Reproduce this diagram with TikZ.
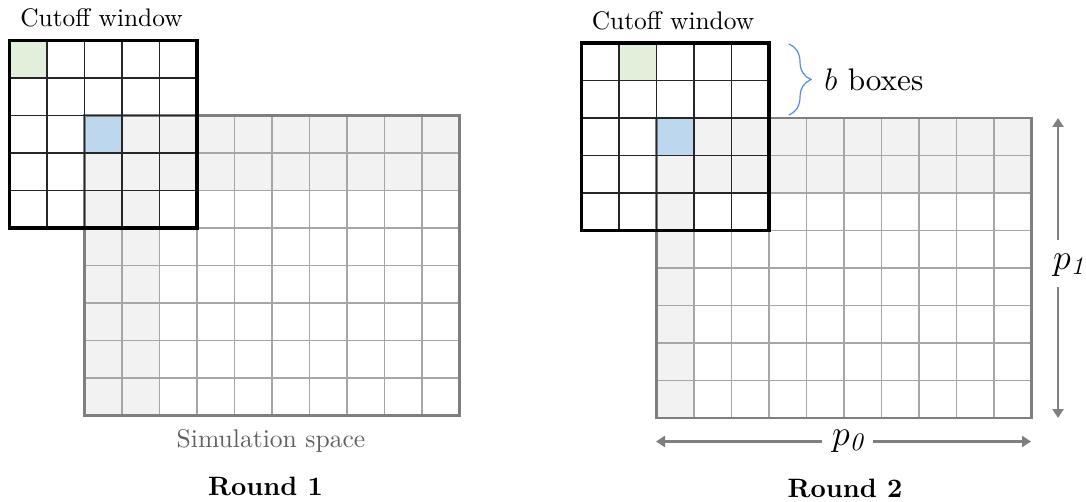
\RequirePackage{fix-cm}
\documentclass[tikz,border=0pt]{standalone}
\usepackage{fontspec}
\setmainfont{lmroman10-regular}[Extension=.otf, BoldFont=lmroman10-bold, ItalicFont=lmroman10-italic]
\usetikzlibrary{decorations.pathreplacing,arrows.meta}
\definecolor{simln}{HTML}{A6A6A6}
\definecolor{simbd}{HTML}{7F7F7F}
\definecolor{shadegray}{HTML}{F2F2F2}
\definecolor{bluecell}{HTML}{BDD7EE}
\definecolor{greencell}{HTML}{E2EFDA}
\definecolor{arrowgray}{HTML}{7F7F7F}
\definecolor{bracecol}{HTML}{5B8BD9}
\definecolor{labgray}{HTML}{606060}
\newcommand{\mysimgrid}{%
  \foreach \i in {1,...,9} \draw[simline] (\i*37.5,0) -- (\i*37.5,300);
  \foreach \j in {1,...,7} \draw[simline] (0,\j*37.5) -- (375,\j*37.5);
  \draw[simbord] (0,0) rectangle (375,300);}
\newcommand{\mywingrid}{%
  \foreach \i in {1,...,4} {\draw[winline] (\i*37.5,0) -- (\i*37.5,187.5);
                            \draw[winline] (0,\i*37.5) -- (187.5,\i*37.5);}
  \draw[winbord] (0,0) rectangle (187.5,187.5);}
\begin{document}
\begin{tikzpicture}[x=0.5pt,y=-0.5pt,
  simline/.style={draw=simln, line width=0.8pt},
  simbord/.style={draw=simbd, line width=1.4pt},
  winline/.style={draw=black!85, line width=0.7pt},
  winbord/.style={draw=black, line width=1.6pt},
  dimarrow/.style={draw=arrowgray, line width=1.3pt, -{Triangle[length=4.5pt,width=5.5pt]}},
  captxt/.style={font=\fontsize{12.7}{15}\selectfont, inner sep=0pt, anchor=base},
  simtxt/.style={font=\fontsize{12.8}{15}\selectfont, text=labgray, inner sep=0pt, anchor=base},
  roundtxt/.style={font=\fontsize{13.3}{16}\selectfont\bfseries, inner sep=0pt, anchor=base},
  dimtxt/.style={font=\fontsize{18}{20}\selectfont, inner sep=0pt},
  bracetxt/.style={font=\fontsize{15.6}{18}\selectfont, inner sep=0pt, anchor=west}]
\useasboundingbox (0,0) rectangle (1086,502);
% ---------- Round 1 ----------
\begin{scope}[shift={(84.5,115.5)}]
  \fill[shadegray] (0,0) rectangle (375,75);
  \fill[shadegray] (0,0) rectangle (75,300);
  \fill[bluecell] (0,0) rectangle (37.5,37.5);
  \mysimgrid
\end{scope}
\begin{scope}[shift={(9.5,40.5)}]
  \fill[greencell] (0,0) rectangle (37.5,37.5);
  \mywingrid
\end{scope}
\node[captxt] (cw1) at (101.5,26.5) {Cutoff window};
\node[simtxt] (ss) at (271,447) {Simulation space};
\node[roundtxt] (r1) at (265.5,495) {Round 1};
% ---------- Round 2 ----------
\begin{scope}[shift={(656.5,118)}]
  \fill[shadegray] (0,0) rectangle (375,75);
  \fill[shadegray] (0,0) rectangle (37.5,300);
  \fill[bluecell] (0,0) rectangle (37.5,37.5);
  \mysimgrid
\end{scope}
\begin{scope}[shift={(581.5,43)}]
  \fill[greencell] (37.5,0) rectangle (75,37.5);
  \mywingrid
\end{scope}
\node[captxt] (cw2) at (673,29.5) {Cutoff window};
\node[roundtxt] (r2) at (845,497) {Round 2};
% brace
\coordinate (bt) at (789,44);
\coordinate (bb) at (789,115);
\draw[bracecol, line width=0.6pt, decorate, decoration={brace, amplitude=11pt}] (bt) -- (bb);
\node[bracetxt] (bl) at (824,80) {$b$ boxes};
% p1 arrow
\node[dimtxt] (p1) at (1069,265) {$p_{\mathit{1}}$};
\coordinate (p1a) at (1058,240);
\coordinate (p1b) at (1058,287);
\coordinate (p1top) at (1058,118);
\coordinate (p1bot) at (1058,418);
\draw[dimarrow] (p1a) -- (p1top);
\draw[dimarrow] (p1b) -- (p1bot);
% p0 arrow
\node[dimtxt] (p0) at (848,441) {$p_{\mathit{0}}$};
\coordinate (p0a) at (822,441.5);
\coordinate (p0b) at (873,441.5);
\coordinate (p0l) at (656,441.5);
\coordinate (p0r) at (1031,441.5);
\draw[dimarrow] (p0a) -- (p0l);
\draw[dimarrow] (p0b) -- (p0r);
\end{tikzpicture}
\end{document}
